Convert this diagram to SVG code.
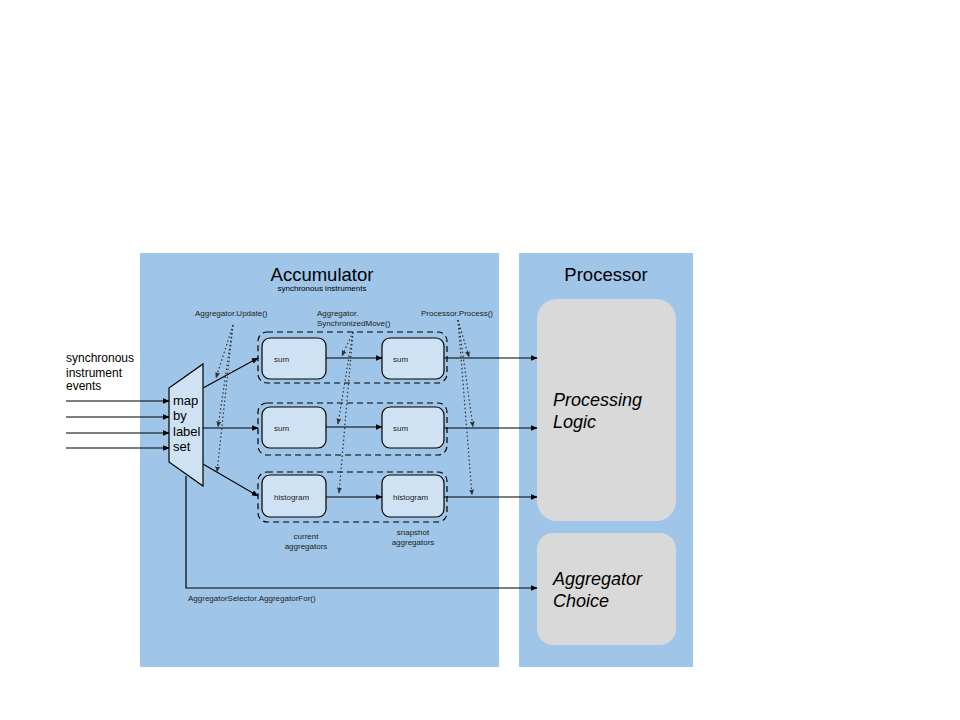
<svg xmlns="http://www.w3.org/2000/svg" width="960" height="720" viewBox="0 0 960 720">
<defs>
<marker id="ah" viewBox="0 0 10 10" refX="9" refY="5" markerWidth="7" markerHeight="7" markerUnits="userSpaceOnUse" orient="auto"><path d="M0,1 L10,5 L0,9 Z" fill="#000"/></marker>
<marker id="dh" viewBox="0 0 10 10" refX="9" refY="5" markerWidth="6" markerHeight="6" markerUnits="userSpaceOnUse" orient="auto"><path d="M0,1 L10,5 L0,9 Z" fill="#333"/></marker>
</defs>
<style>
text{font-family:"Liberation Sans",Arial,sans-serif;fill:#000}
.panel{fill:#9fc5e8}
.proc{fill:#d9d9d9}
.grp{fill:none;stroke:#000;stroke-width:1.2;stroke-dasharray:6,4}
.box{fill:#cfe2f3;stroke:#000;stroke-width:1.2}
.ln{fill:none;stroke:#000;stroke-width:1.2;marker-end:url(#ah)}
.dot{fill:none;stroke:#333;stroke-width:1.2;stroke-dasharray:1.5,2.5;marker-end:url(#dh)}
.s{font-size:8px;fill:#222}
.lbl{font-size:8px;fill:#222}
.big{font-size:18px;font-style:italic}
</style>
<rect width="960" height="720" fill="#fff"/>
<g id="accumulator">
<rect class="panel" x="140" y="253" width="359" height="414"/>
<text x="322" y="281" font-size="18.5" text-anchor="middle">Accumulator</text>
<text x="322" y="291" font-size="8" text-anchor="middle" fill="#222">synchronous instruments</text>
</g>
<g id="processor">
<rect class="panel" x="519" y="253" width="174" height="414"/>
<text x="606" y="281" font-size="18.5" text-anchor="middle">Processor</text>
</g>
<g id="processing-logic">
<rect class="proc" x="537" y="299" width="139" height="222" rx="20"/>
<text class="big" x="553" y="406">Processing</text>
<text class="big" x="553" y="428">Logic</text>
</g>
<g id="aggregator-choice">
<rect class="proc" x="537" y="533" width="139" height="112" rx="16"/>
<text class="big" x="553" y="585">Aggregator</text>
<text class="big" x="553" y="607">Choice</text>
</g>
<g id="events-label">
<text x="66" y="362" font-size="12">synchronous</text>
<text x="66" y="377" font-size="12">instrument</text>
<text x="66" y="390" font-size="12">events</text>
</g>
<g id="map">
<polygon points="169,388 203,364 203,486 169,462" fill="#cfe2f3" stroke="#000" stroke-width="1.2"/>
<text x="173" y="405" font-size="13">map</text>
<text x="173" y="420" font-size="13">by</text>
<text x="173" y="436" font-size="13">label</text>
<text x="173" y="451" font-size="13">set</text>
</g>
<g id="row1">
<rect class="grp" x="258" y="332" width="189" height="51" rx="9"/>
<g id="sum1"><rect class="box" x="262" y="338" width="64" height="41" rx="8"/><text class="s" x="274" y="362">sum</text></g>
<g id="sum2"><rect class="box" x="382" y="338" width="62" height="41" rx="8"/><text class="s" x="393" y="362">sum</text></g>
</g>
<g id="row2">
<rect class="grp" x="258" y="403" width="189" height="52" rx="9"/>
<g id="sum3"><rect class="box" x="262" y="407" width="64" height="41" rx="8"/><text class="s" x="274" y="431">sum</text></g>
<g id="sum4"><rect class="box" x="382" y="407" width="62" height="41" rx="8"/><text class="s" x="393" y="431">sum</text></g>
</g>
<g id="row3">
<rect class="grp" x="258" y="472" width="189" height="50" rx="9"/>
<g id="hist1"><rect class="box" x="262" y="475" width="64" height="42" rx="8"/><text class="s" x="274" y="500">histogram</text></g>
<g id="hist2"><rect class="box" x="382" y="475" width="62" height="42" rx="8"/><text class="s" x="393" y="500">histogram</text></g>
</g>
<g id="labels">
<text class="lbl" x="306" y="539" text-anchor="middle">current</text>
<text class="lbl" x="306" y="549" text-anchor="middle">aggregators</text>
<text class="lbl" x="413" y="535" text-anchor="middle">snapshot</text>
<text class="lbl" x="413" y="545" text-anchor="middle">aggregators</text>
<text class="lbl" x="195" y="316">Aggregator.Update()</text>
<text class="lbl" x="317" y="316">Aggregator.</text>
<text class="lbl" x="317" y="326">SynchronizedMove()</text>
<text class="lbl" x="421" y="316">Processor.Process()</text>
<text class="lbl" x="188" y="601">AggregatorSelector.AggregatorFor()</text>
</g>
<g id="connectors">
<path class="ln" d="M66,401 H169"/>
<path class="ln" d="M66,417 H169"/>
<path class="ln" d="M66,433 H169"/>
<path class="ln" d="M66,448 H169"/>
<path class="ln" d="M203,388 L258,358"/>
<path class="ln" d="M203,428 L258,428"/>
<path class="ln" d="M203,464 L258,496"/>
<path class="ln" d="M326,358 H382"/>
<path class="ln" d="M326,427 H382"/>
<path class="ln" d="M326,497 H382"/>
<path class="ln" d="M444,358 H537"/>
<path class="ln" d="M444,428 H537"/>
<path class="ln" d="M444,497 H537"/>
<path class="ln" d="M186,476 V588 H537"/>
<path class="dot" d="M233,325 L216,378"/>
<path class="dot" d="M233,325 L218,427"/>
<path class="dot" d="M233,325 L217,472"/>
<path class="dot" d="M353,332 L342,356"/>
<path class="dot" d="M353,332 L338,424"/>
<path class="dot" d="M353,332 L339,493"/>
<path class="dot" d="M458,320 L469,357"/>
<path class="dot" d="M458,320 L473,427"/>
<path class="dot" d="M458,320 L472,495"/>
</g>
</svg>
